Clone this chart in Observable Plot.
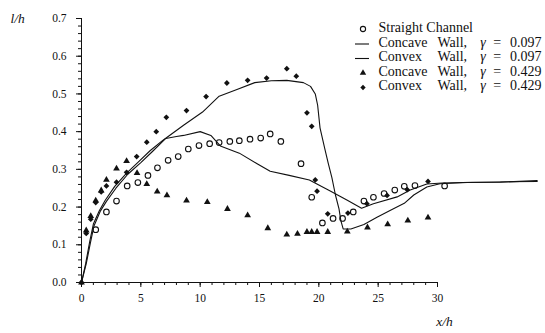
<!DOCTYPE html>
<html><head><meta charset="utf-8">
<script src="https://cdn.jsdelivr.net/npm/d3@7"></script>
<script src="https://cdn.jsdelivr.net/npm/@observablehq/plot@0.6"></script>
<style>
html,body{margin:0;padding:0;background:#fff}
svg{display:block}
#chart svg text { font-family: "Liberation Serif", "DejaVu Serif", "Times New Roman", Times, serif !important; }
</style>
</head><body><div id="chart"></div>
<script>
// ---- tick labels ----
const xTicks = [0, 5, 10, 15, 20, 25, 30];
const yTicks = [0.0, 0.1, 0.2, 0.3, 0.4, 0.5, 0.6, 0.7];
const xMinorTicks = d3.range(0, 31, 1);
const yMinorTicks = d3.range(0, 0.7001, 0.02);

// ---- series (x/h, l/h) ----
const straightChannel = [[1.2,0.14],[2.1,0.187],[2.95,0.216],[3.85,0.256],[4.75,0.265],[5.6,0.284],[6.4,0.304],[7.3,0.324],[8.15,0.334],[9.0,0.354],[9.9,0.363],[10.8,0.368],[11.6,0.371],[12.5,0.374],[13.3,0.376],[14.2,0.38],[15.1,0.383],[15.9,0.394],[16.8,0.374],[18.5,0.315],[19.4,0.226],[20.3,0.158],[21.2,0.17],[22.0,0.17],[22.9,0.187],[23.8,0.216],[24.6,0.226],[25.5,0.236],[26.4,0.245],[27.2,0.255],[28.1,0.257],[30.6,0.256]];

const concave097 = [[0,0],[0.4,0.05],[0.75,0.105],[1.05,0.15],[1.6,0.19],[2.1,0.215],[2.9,0.25],[3.9,0.287],[5.0,0.318],[6.0,0.348],[7.1,0.382],[8.0,0.387],[8.6,0.39],[10.0,0.4],[10.9,0.39],[11.7,0.362],[13.3,0.343],[14.8,0.315],[15.9,0.295],[17.5,0.284],[19.2,0.272],[21.0,0.242],[22.4,0.218],[23.6,0.197],[24.6,0.209],[26.6,0.227],[27.7,0.245],[29.1,0.261],[30.4,0.264],[33.0,0.266],[38.4,0.268]];

const convex097 = [[0,0],[0.35,0.05],[0.7,0.11],[1.0,0.155],[1.5,0.19],[2.0,0.218],[2.8,0.255],[3.8,0.29],[4.8,0.32],[5.8,0.35],[6.9,0.378],[8.6,0.417],[10.2,0.452],[11.6,0.494],[13.1,0.512],[14.6,0.53],[16.0,0.535],[17.3,0.536],[18.7,0.53],[19.3,0.52],[19.7,0.5],[19.9,0.47],[20.1,0.41],[20.5,0.355],[20.8,0.315],[21.1,0.278],[21.4,0.232],[21.7,0.195],[21.85,0.165],[22.05,0.142],[22.7,0.142],[23.8,0.154],[24.9,0.173],[26.0,0.191],[27.2,0.21],[28.0,0.232],[29.1,0.253],[30.2,0.262],[32.5,0.265],[35.3,0.266],[38.4,0.27]];

const concave429 = [[0,0],[0.4,0.138],[0.78,0.176],[1.2,0.217],[1.66,0.244],[2.1,0.272],[2.95,0.302],[3.8,0.322],[4.68,0.29],[5.5,0.261],[6.38,0.241],[7.2,0.231],[8.85,0.217],[10.6,0.213],[12.3,0.195],[14.0,0.178],[15.7,0.144],[17.3,0.127],[18.2,0.129],[19.0,0.134],[19.4,0.134],[19.85,0.134],[20.75,0.134],[22.4,0.135],[24.1,0.146],[25.8,0.154],[27.5,0.164],[29.2,0.172]];

const convex429 = [[0,0],[0.4,0.13],[0.78,0.168],[1.2,0.212],[1.66,0.24],[2.1,0.256],[2.95,0.266],[3.8,0.292],[4.65,0.334],[5.5,0.372],[6.3,0.4],[7.15,0.438],[8.85,0.456],[10.5,0.493],[12.25,0.529],[14.0,0.536],[15.6,0.542],[17.3,0.567],[18.1,0.547],[19.0,0.45],[19.4,0.414],[19.7,0.272],[19.85,0.242],[20.75,0.182],[22.45,0.184],[24.05,0.209],[25.75,0.231],[27.45,0.246],[29.2,0.268]];

// ---- legend text ----
const legendNames = ["Straight Channel", "Concave", "Convex", "Concave", "Convex"];
const legendGamma = [null, "0.097", "0.097", "0.429", "0.429"];
const axisTitles = ["l/h", "x/h"];

// ---- layout helpers (legend placed in data units) ----
const W = 545, H = 333, mL = 81, mR = 108, mT = 18, mB = 51;
const pxX = px => (px - mL) / ((W - mL - mR) / 30);
const pxY = py => (H - mB - py) / ((H - mB - mT) / 0.7);
const rowText = [27.5, 42, 56.5, 71, 85.5].map(pxY);
const rowSym = [28.5, 43.5, 58, 72.5, 87].map(pxY);
const rows = legendNames.map((n, i) => ({i, name: n, g: legendGamma[i], yt: rowText[i], ys: rowSym[i]}));
const gRows = rows.filter(r => r.g);

const black = "#111";
const serif = "'Liberation Serif', 'DejaVu Serif', serif";
const fs = 14;

const chart = Plot.plot({
  width: W, height: H,
  marginLeft: mL, marginRight: mR, marginTop: mT, marginBottom: mB,
  x: {domain: [0, 30]},
  y: {domain: [0, 0.7]},
  style: {fontFamily: serif, fontSize: "11.5px", color: black, background: "#fff", overflow: "visible"},
  marks: [
    // axes
    Plot.axisX({ticks: xMinorTicks, tickSize: 3, tickFormat: () => "", stroke: black}),
    Plot.axisX({ticks: xTicks, tickSize: 5, tickPadding: 6, tickFormat: d => String(d), fontSize: 11.5, stroke: black}),
    Plot.axisY({ticks: yMinorTicks, tickSize: 3, tickFormat: () => "", stroke: black}),
    Plot.axisY({ticks: yTicks, tickSize: 5, tickPadding: 10, tickFormat: d3.format(".1f"), fontSize: 11.5, stroke: black}),
    Plot.ruleX([0], {y1: 0, y2: 0.7, stroke: black, strokeWidth: 1}),
    Plot.ruleY([0], {x1: 0, x2: 30, stroke: black, strokeWidth: 1}),
    // lines
    Plot.line(concave097, {x: d => d[0], y: d => d[1], stroke: black, strokeWidth: 1.1}),
    Plot.line(convex097, {x: d => d[0], y: d => d[1], stroke: black, strokeWidth: 1.1}),
    // markers
    Plot.dot(straightChannel, {x: d => d[0], y: d => d[1], r: 2.8, stroke: black, strokeWidth: 1.1, fill: "none"}),
    Plot.dot(concave429, {x: d => d[0], y: d => d[1], symbol: "triangle", r: 2.5, fill: black, stroke: "none"}),
    Plot.dot(convex429, {x: d => d[0], y: d => d[1], symbol: "diamond2", r: 2.6, fill: black, stroke: "none"}),
    // legend symbols
    Plot.dot([rows[0]], {x: pxX(362.5), y: "ys", r: 2.6, stroke: black, strokeWidth: 1.1, fill: "none"}),
    Plot.ruleY([rows[1], rows[2]], {y: "ys", x1: pxX(355), x2: pxX(369), stroke: black, strokeWidth: 1.1}),
    Plot.dot([rows[3]], {x: pxX(362.5), y: "ys", symbol: "triangle", r: 2.4, fill: black}),
    Plot.dot([rows[4]], {x: pxX(362.5), y: "ys", symbol: "diamond2", r: 2.4, fill: black}),
    // legend text
    Plot.text(rows, {x: pxX(378), y: "yt", text: "name", textAnchor: "start", fontSize: fs, fill: black}),
    Plot.text(gRows, {x: pxX(437), y: "yt", text: () => "Wall,", textAnchor: "start", fontSize: fs, fill: black}),
    Plot.text(gRows, {x: pxX(482.5), y: "yt", text: () => "γ", fontStyle: "italic", fontSize: fs, fill: black}),
    Plot.text(gRows, {x: pxX(496.6), y: "yt", text: () => "=", fontSize: fs, fill: black}),
    Plot.text(gRows, {x: pxX(541), y: "yt", text: "g", textAnchor: "end", fontSize: fs, fill: black}),
    // axis titles
    Plot.text([axisTitles[0]], {x: pxX(17), y: pxY(18), text: d => d, fontStyle: "italic", fontSize: 13.5, fill: black}),
    Plot.text([axisTitles[1]], {x: pxX(444), y: pxY(321), text: d => d, fontStyle: "italic", fontSize: 13.5, fill: black})
  ]
});
document.getElementById("chart").appendChild(chart);
</script>
</body></html>
